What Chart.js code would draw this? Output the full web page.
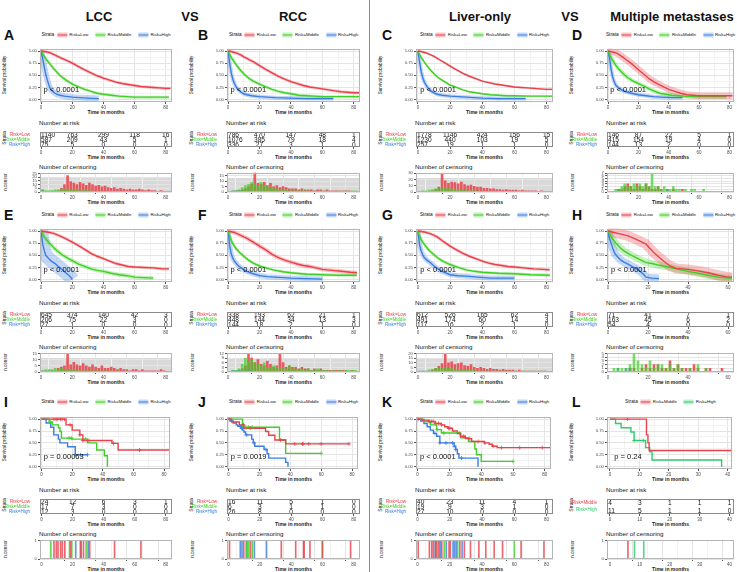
<!DOCTYPE html>
<html>
<head>
<meta charset="utf-8">
<script src="https://cdn.jsdelivr.net/npm/chart.js@4.4.1/dist/chart.umd.min.js"></script>
<style>
  body { margin: 0; background: #fff; }
  #fig { position: relative; width: 737px; height: 572px; overflow: hidden;
         font-family: "Liberation Sans", Arial, sans-serif; color: #111; }
  #fig canvas { position: absolute; }
  .t { position: absolute; white-space: nowrap; line-height: 1; }
  .hdr { font-weight: bold; font-size: 13px; transform: translate(-50%, -50%); }
  .let { font-weight: bold; font-size: 14px; transform: translateY(-50%); }
  .rot { font-size: 4.6px; transform: translate(-50%, -50%) rotate(-90deg); }
  .xt { font-size: 5px; font-weight: bold; color: #222; transform: translate(-50%, -50%); }
  .sub { font-size: 6.2px; transform: translateY(-50%); }
  .leg { position: absolute; display: flex; align-items: center; font-size: 4.4px;
         line-height: 1; white-space: nowrap; transform: translate(-50%, -50%); }
  .key { position: relative; display: inline-block; width: 10px; height: 5px; }
  .key i { position: absolute; left: 0; right: 0; top: 2px; height: 1.2px; }
</style>
</head>
<body>
<div id="fig"></div>
<script>
// ---- colours
const RED = "#e8414a", GREEN = "#3fcf26", BLUE = "#3b7de0", MINT = "#2ecc6e";

// ---- tick labels / strata
const ticks80 = [0, 20, 40, 60, 80];
const ticks60 = [0, 20, 40, 60];
const ticks40 = [0, 10, 20, 30, 40];
const survTicks = [0, 0.25, 0.5, 0.75, 1];
const strata3 = ["Risk=Low", "Risk=Middle", "Risk=High"];
const strata2 = ["Risk=Middle", "Risk=High"];
const censTicks25 = [0, 5, 10, 15, 20, 25];
const censTicks18 = [0, 5, 10, 15];
const censTicks30 = [0, 10, 20, 30];
const censTicks7 = [0, 1, 2, 3, 4, 5, 6, 7];
const censTicks15 = [0, 5, 10, 15];
const censTicks12 = [0, 3, 6, 9, 12];
const censTicks20 = [0, 5, 10, 15, 20];
const censTicks5 = [0, 1, 2, 3, 4, 5];
const censTicks1 = [0, 1];

// ---- survival curves [month, probability]
const A_low = [[0,1],[2,0.99],[4,0.98],[6,0.96],[8,0.93],[10,0.9],[12,0.87],[14,0.84],[16,0.81],[18,0.78],[20,0.75],[24,0.68],[28,0.61],[32,0.55],[36,0.49],[40,0.44],[44,0.4],[48,0.36],[52,0.33],[56,0.31],[60,0.29],[64,0.27],[68,0.26],[72,0.25],[76,0.24],[80,0.23],[83,0.23]];
const A_mid = [[0,1],[1,0.94],[2,0.89],[3,0.84],[4,0.8],[6,0.72],[8,0.64],[10,0.57],[12,0.5],[14,0.45],[16,0.4],[18,0.36],[20,0.32],[24,0.26],[28,0.21],[32,0.17],[36,0.13],[40,0.11],[45,0.09],[50,0.07],[55,0.06],[60,0.05],[70,0.05],[80,0.05],[82,0.05]];
const A_high = [[0,1],[1,0.85],[2,0.68],[3,0.52],[4,0.4],[5,0.3],[6,0.22],[8,0.15],[10,0.11],[12,0.09],[15,0.07],[20,0.05],[25,0.04],[30,0.03],[37,0.02]];

const B_low = [[0,1],[2,0.99],[4,0.97],[6,0.95],[8,0.92],[10,0.88],[12,0.85],[14,0.81],[16,0.78],[18,0.74],[20,0.7],[24,0.62],[28,0.55],[32,0.48],[36,0.42],[40,0.37],[44,0.33],[48,0.29],[52,0.26],[56,0.24],[60,0.22],[64,0.2],[68,0.18],[72,0.16],[76,0.15],[80,0.14],[84,0.14]];
const B_mid = [[0,1],[1,0.93],[2,0.87],[3,0.82],[4,0.77],[6,0.68],[8,0.6],[10,0.53],[12,0.47],[14,0.42],[16,0.38],[18,0.35],[20,0.32],[24,0.26],[28,0.21],[32,0.17],[36,0.14],[40,0.12],[45,0.09],[50,0.08],[55,0.07],[60,0.06],[70,0.06],[80,0.06],[84,0.06]];
const B_high = [[0,1],[1,0.75],[2,0.55],[3,0.42],[4,0.33],[5,0.27],[6,0.22],[8,0.16],[10,0.12],[12,0.1],[15,0.08],[20,0.06],[25,0.05],[30,0.04],[40,0.03],[50,0.02],[60,0.02],[67,0.02]];

const C_low = [[0,1],[2,0.99],[4,0.97],[6,0.95],[8,0.92],[10,0.89],[12,0.85],[14,0.81],[16,0.77],[18,0.73],[20,0.69],[24,0.61],[28,0.54],[32,0.48],[36,0.43],[40,0.38],[44,0.35],[48,0.32],[52,0.3],[56,0.28],[60,0.26],[64,0.25],[68,0.24],[72,0.23],[76,0.22],[80,0.21],[84,0.21]];
const C_mid = [[0,1],[1,0.93],[2,0.87],[3,0.82],[4,0.77],[6,0.68],[8,0.6],[10,0.53],[12,0.47],[14,0.42],[16,0.38],[18,0.34],[20,0.3],[24,0.25],[28,0.2],[32,0.16],[36,0.14],[40,0.12],[45,0.1],[50,0.09],[55,0.08],[60,0.08],[70,0.07],[80,0.07],[84,0.07]];
const C_high = [[0,1],[1,0.78],[2,0.58],[3,0.45],[4,0.36],[5,0.3],[6,0.25],[8,0.18],[10,0.14],[12,0.11],[15,0.09],[20,0.07],[25,0.06],[30,0.05],[40,0.03],[50,0.02],[60,0.02],[67,0.02]];

const D_low = [[0,1],[3,0.98],[6,0.95],[9,0.89],[12,0.82],[15,0.75],[18,0.67],[21,0.59],[24,0.51],[27,0.43],[30,0.37],[33,0.32],[36,0.27],[40,0.21],[44,0.17],[48,0.13],[52,0.1],[56,0.09],[60,0.08],[70,0.08],[80,0.08],[82,0.08]];
const D_mid = [[0,1],[1,0.93],[2,0.87],[3,0.81],[5,0.71],[7,0.63],[10,0.53],[13,0.45],[16,0.39],[20,0.33],[24,0.27],[27,0.22],[30,0.18],[34,0.13],[38,0.11],[42,0.09],[46,0.08],[50,0.07],[60,0.06],[70,0.06],[78,0.06]];
const D_high = [[0,1],[1,0.85],[2,0.62],[3,0.47],[4,0.37],[5,0.3],[7,0.24],[10,0.18],[14,0.14],[20,0.1],[25,0.08],[30,0.06],[35,0.05],[42,0.04],[49,0.04]];

const E_low = [[0,1],[4,0.98],[8,0.95],[12,0.9],[16,0.84],[20,0.77],[24,0.7],[28,0.62],[32,0.54],[36,0.48],[40,0.43],[44,0.38],[48,0.33],[52,0.3],[56,0.27],[60,0.26],[66,0.25],[72,0.24],[78,0.22],[82,0.22]];
const E_mid = [[0,1],[1,0.94],[2,0.88],[4,0.8],[6,0.73],[8,0.66],[10,0.6],[12,0.55],[14,0.5],[17,0.44],[20,0.39],[24,0.32],[28,0.27],[32,0.22],[36,0.19],[40,0.17],[45,0.13],[50,0.1],[55,0.08],[60,0.05],[66,0.04],[72,0.03]];
const E_high = [[0,1],[1,0.74],[2,0.6],[3,0.5],[5,0.43],[7,0.37],[9,0.33],[11,0.27],[13,0.22],[15,0.16],[17,0.11],[19,0.05],[20,0]];

const F_low = [[0,1],[4,0.97],[8,0.91],[12,0.85],[16,0.77],[20,0.69],[24,0.61],[28,0.52],[32,0.45],[36,0.4],[40,0.36],[44,0.32],[48,0.29],[52,0.27],[56,0.24],[60,0.21],[66,0.19],[72,0.17],[78,0.15],[82,0.14]];
const F_mid = [[0,1],[1,0.9],[2,0.81],[3,0.74],[5,0.64],[7,0.57],[10,0.48],[13,0.4],[16,0.34],[20,0.28],[25,0.23],[30,0.19],[35,0.16],[40,0.14],[50,0.11],[60,0.1],[70,0.09],[82,0.09]];
const F_high = [[0,1],[1,0.7],[2,0.53],[3,0.44],[4,0.38],[6,0.3],[8,0.25],[10,0.2],[12,0.17],[15,0.13],[20,0.08],[25,0.06],[30,0.05],[40,0.03],[50,0.02],[60,0.01]];

const G_low = [[0,1],[4,0.98],[8,0.94],[12,0.88],[16,0.78],[20,0.69],[24,0.61],[28,0.54],[32,0.48],[36,0.43],[40,0.38],[44,0.34],[48,0.31],[52,0.29],[56,0.27],[60,0.26],[66,0.24],[72,0.22],[78,0.21],[82,0.2]];
const G_mid = [[0,1],[1,0.9],[2,0.83],[3,0.77],[5,0.68],[7,0.6],[10,0.51],[13,0.43],[16,0.37],[20,0.31],[25,0.25],[30,0.2],[35,0.17],[40,0.15],[50,0.13],[60,0.12],[70,0.1],[82,0.09]];
const G_high = [[0,1],[1,0.72],[2,0.59],[3,0.51],[4,0.45],[6,0.39],[8,0.34],[10,0.28],[12,0.23],[15,0.17],[20,0.1],[25,0.08],[30,0.07],[37,0.05],[45,0.03],[60,0.03]];

const H_low = [[0,1],[3,0.97],[6,0.94],[10,0.9],[13,0.85],[16,0.79],[19,0.73],[21,0.64],[23,0.55],[25,0.48],[27,0.41],[29,0.34],[31,0.28],[34,0.23],[40,0.21],[45,0.18],[50,0.14],[55,0.09],[60,0.05],[62,0.05]];
const H_mid = [[0,1],[1,0.92],[2,0.85],[4,0.75],[6,0.66],[8,0.59],[10,0.54],[13,0.47],[16,0.41],[19,0.35],[22,0.33],[25,0.3],[29,0.27],[34,0.22],[40,0.17],[45,0.13],[50,0.09],[55,0.05],[60,0.03],[62,0.03]];
const H_high = [[0,1],[0.5,0.88],[1.5,0.75],[2.5,0.63],[3.5,0.53],[5,0.46],[6.5,0.4],[8,0.36],[10,0.32],[12,0.27],[14,0.23],[16,0.17],[18,0.1],[19,0.05],[22,0.03],[25.5,0.02]];

const I_low = [[0,1],[16,0.88],[20,0.77],[25,0.67],[27,0.55],[46,0.49],[50,0.35],[84,0.35]];
const I_mid = [[0,1],[5,0.94],[7,0.88],[11,0.82],[12,0.74],[13,0.6],[20,0.58],[30,0.5],[36,0.35],[41,0.23],[43,0]];
const I_high = [[0,1],[3,0.92],[6,0.83],[8,0.67],[11,0.58],[12,0.5],[17,0.42],[22,0.25],[30,0.25]];

const J_low = [[0,1],[2,0.94],[7,0.88],[10,0.81],[24,0.74],[26,0.66],[30,0.56],[37,0.48],[78,0.48]];
const J_mid = [[0,1],[9,0.83],[33,0.56],[37,0.28],[60,0.28]];
const J_high = [[0,1],[1,0.96],[3,0.92],[5,0.88],[6,0.85],[8,0.81],[9,0.77],[10,0.73],[11,0.67],[15,0.58],[16,0.5],[17,0.43],[23,0.36],[25,0.27],[26,0.18],[37,0.09],[38.5,0]];

const K_low = [[0,1],[3,0.98],[7,0.95],[11,0.91],[15,0.88],[17,0.84],[19,0.81],[22,0.75],[25,0.7],[27,0.64],[30,0.59],[34,0.53],[42,0.5],[45,0.47],[47,0.43],[50,0.4],[84,0.4]];
const K_mid = [[0,1],[4,0.95],[8,0.88],[12,0.78],[15,0.71],[27,0.61],[32,0.53],[36,0.37],[37,0.25],[40,0.11],[60,0.11]];
const K_high = [[0,1],[2,0.96],[4,0.91],[6,0.84],[8,0.77],[10,0.7],[12,0.64],[14,0.5],[23,0.43],[24,0.36],[25,0.27],[26,0.18],[38,0]];

const L_mid = [[0,1],[12.4,0.67],[12.9,0.5],[13.3,0.34],[41.5,0.34]];
const L_high = [[0,1],[1.9,0.91],[3.8,0.82],[7.1,0.73],[8.2,0.55],[12.1,0.4],[13.5,0.31],[14.3,0.14],[37.9,0]];

// ---- numbers at risk (rows = strata, columns = time ticks)
const A_risk = [[1140, 763, 299, 118, 16], [587, 209, 43, 5, 1], [75, 5, 0, 0, 0]];
const B_risk = [[786, 470, 147, 48, 1], [1076, 385, 79, 18, 4], [336, 27, 3, 1, 0]];
const C_risk = [[1778, 1146, 424, 156, 15], [1230, 440, 103, 19, 5], [257, 19, 1, 1, 0]];
const D_risk = [[146, 87, 22, 5, 1], [415, 154, 19, 4, 0], [144, 13, 2, 0, 0]];
const E_risk = [[645, 374, 140, 42, 3], [206, 75, 22, 3, 0], [27, 1, 0, 0, 0]];
const F_risk = [[338, 193, 62, 21, 1], [448, 144, 34, 13, 3], [144, 18, 2, 1, 0]];
const G_risk = [[612, 526, 165, 62, 4], [491, 174, 60, 14, 3], [117, 16, 2, 1, 0]];
const H_risk = [[71, 41, 7, 1], [163, 45, 6, 2], [54, 4, 0, 0]];
const I_risk = [[24, 12, 6, 3, 1], [17, 7, 3, 0, 0], [12, 3, 0, 0, 0]];
const J_risk = [[16, 11, 5, 1, 0], [6, 3, 1, 1, 0], [26, 8, 0, 0, 0]];
const K_risk = [[40, 23, 11, 4, 1], [19, 9, 3, 1, 0], [27, 10, 0, 0, 0]];
const L_risk = [[4, 3, 1, 1, 1], [11, 5, 1, 1, 0]];

// ---- censoring counts per 2-month bin (A-H)
const A_censLow = [0,0,1,1,1,2,5,10,22,14,12,10,13,11,9,12,10,8,9,7,8,6,5,6,4,5,4,3,4,3,3,4,3,2,3,2,2,1,2,1,1];
const A_censMid = [3,2,2,2,3,3,4,4,4,3,3,3,2,2,2,2,1,1,1,1,1,0,1,0,0,0,0,0,0,0,0,0,0,0,0,0,0,0,0,0,0];
const A_censHigh = [3,1,1,0,0,0,0,0,0,1,0,0,0,0,0,0,0,0,0];
const B_censLow = [0,0,1,1,2,3,5,7,18,8,7,9,6,8,5,6,4,5,4,3,3,3,2,3,2,2,2,1,2,2,1,2,1,1,1,1,1,1,1,0,0];
const B_censMid = [0,1,1,2,4,6,7,9,8,6,9,6,5,4,4,3,2,2,2,1,1,1,1,1,1,1,0,1,0,1,0,1,0,0,1,0,0,1,0,1,1];
const B_censHigh = [0,1,1,1,1,0,1,0,0,0,0,0,0,0,0,0,0];
const C_censLow = [0,0,1,1,2,4,8,30,18,14,16,15,13,16,12,10,11,9,8,8,6,6,5,5,4,4,3,4,3,3,3,2,3,2,2,2,2,1,2,1,1];
const C_censMid = [1,2,2,3,4,5,6,6,7,6,5,4,4,3,3,2,2,2,2,1,1,1,1,1,1,1,1,1,1,0,1,1,0,1,0,1,0,1,1,1,0];
const C_censHigh = [1,1,1,1,1,1,0,0,0,0,0,0,0,0,0,0,0];
const D_censLow = [0,0,0,1,1,2,3,2,1,3,2,1,3,2,1,1,2,1,0,1,0,1,0,0,1,0,0,0,0,0,0,0,0,0,0,0,0,0,0,0,0];
const D_censMid = [0,0,1,1,2,3,2,2,3,2,3,2,3,2,7,2,2,1,2,1,1,2,1,1,0,1,0,1,1,0,0,1,0,0,0,0,0,0,0,0,0];
const D_censHigh = [0,0,0,1,0,0,0,0,0,0,0,0,0,0,0,0,0,0,0,1,0,0,0,0,0];
const E_censLow = [0,0,0,1,1,3,4,5,15,6,8,6,5,7,5,4,6,4,3,5,3,3,4,3,2,3,2,2,1,2,2,1,2,1,1,1,1,1,2,1,0];
const E_censMid = [1,2,2,2,3,2,3,2,2,2,2,1,1,1,1,1,1,1,1,0,1,0,1,0,1,0,0,1,0,0,0,0,0,0,0,0,0,0,0,0,0];
const E_censHigh = [1,0,1,0,0,0,0,0,0,0,0];
const F_censLow = [0,0,0,1,2,4,12,9,6,8,5,4,7,5,3,4,12,6,3,4,3,3,2,3,2,2,1,2,1,2,1,1,1,1,1,1,1,1,0,1,0];
const F_censMid = [0,1,1,2,5,9,7,8,6,5,4,6,3,3,4,3,2,3,2,4,2,2,1,2,1,2,1,1,2,1,1,1,0,1,0,1,0,1,1,1,1];
const F_censHigh = [0,1,1,1,0,1,0,1,0,0,0,0,0,0,0,0,0,0];
const G_censLow = [0,0,0,1,2,4,6,9,20,10,11,8,9,10,7,6,8,5,4,5,4,3,4,3,3,2,3,2,2,2,1,2,1,1,1,1,1,1,1,1,0];
const G_censMid = [0,1,1,2,3,4,4,5,5,4,4,3,3,3,2,2,2,2,1,1,1,1,1,1,1,1,1,0,1,0,1,0,1,1,0,1,0,1,1,1,0];
const G_censHigh = [1,1,1,0,0,0,0,0,0,0,0,0,1,0,0];
const H_censLow = [0,0,0,0,0,1,1,0,1,2,1,2,2,1,1,3,1,2,1,1,1,2,1,0,1,1,0,0,1,0,0];
const H_censMid = [0,1,1,1,1,2,5,3,2,1,3,1,2,2,1,2,1,2,1,0,1,0,2,0,1,0,0,0,0,0,0];
const H_censHigh = [0,0,1,0,1,1,0,0,0,0,0,0,0];

// ---- censoring times (I-L), one event each
const I_censLow = [8, 9.5, 10.6, 12.3, 13.4, 15, 18.7, 25, 27, 31, 47, 64];
const I_censMid = [6, 18, 19.5, 28.7];
const I_censHigh = [22, 25.5, 30];
const J_censLow = [0.6, 9.7, 14, 33.7, 42.9, 47.9, 48.3, 52, 60, 78];
const J_censMid = [11.2, 12.9, 15.2, 60];
const J_censHigh = [7.5, 8.6, 11.8, 16.5, 24.2];
const K_censLow = [0.4, 7.3, 8.8, 9.8, 11.5, 13.2, 15, 19.5, 20.3, 26.2, 29, 32.8, 38, 42.3, 47.5, 52.7, 64.2, 78.4];
const K_censMid = [12.3, 16.5, 24.9, 60];
const K_censHigh = [10.9, 14, 17.8, 22, 23, 24, 27.6];
const L_censMid = [6];
const L_censHigh = [8.2, 11.3];

// ---- layout
const colL = [40, 227, 416, 607], colR = [172, 360, 553, 734];
const letterX = [4, 198, 382, 572];
const rowTop = [20, 200, 387];

const C3 = [RED, GREEN, BLUE];
const panels = [
  { id: "A", col: 0, row: 0, xmin: -0.7, xmax: 84, ticks: ticks80, curves: [A_low, A_mid, A_high], band: [3, 3, 6], risk: A_risk, strata: strata3, colors: C3, p: "p < 0.0001", cens: [A_censLow, A_censMid, A_censHigh], censTicks: censTicks25, censMax: 26, gray: true },
  { id: "B", col: 1, row: 0, xmin: -0.7, xmax: 84, ticks: ticks80, curves: [B_low, B_mid, B_high], band: [3, 3, 4], risk: B_risk, strata: strata3, colors: C3, p: "p < 0.0001", cens: [B_censLow, B_censMid, B_censHigh], censTicks: censTicks18, censMax: 18, gray: true },
  { id: "C", col: 2, row: 0, xmin: -1.2, xmax: 84, ticks: ticks80, curves: [C_low, C_mid, C_high], band: [2, 2, 4], risk: C_risk, strata: strata3, colors: C3, p: "p < 0.0001", cens: [C_censLow, C_censMid, C_censHigh], censTicks: censTicks30, censMax: 31, gray: true },
  { id: "D", col: 3, row: 0, xmin: -0.7, xmax: 83, ticks: ticks80, curves: [D_low, D_mid, D_high], band: [7, 4, 4], risk: D_risk, strata: strata3, colors: C3, p: "p < 0.0001", cens: [D_censLow, D_censMid, D_censHigh], censTicks: censTicks7, censMax: 7.2, gray: false },
  { id: "E", col: 0, row: 1, xmin: -0.7, xmax: 84, ticks: ticks80, curves: [E_low, E_mid, E_high], band: [3, 4, 14], risk: E_risk, strata: strata3, colors: C3, p: "p < 0.0001", cens: [E_censLow, E_censMid, E_censHigh], censTicks: censTicks15, censMax: 16, gray: true },
  { id: "F", col: 1, row: 1, xmin: -0.7, xmax: 84, ticks: ticks80, curves: [F_low, F_mid, F_high], band: [4, 3, 5], risk: F_risk, strata: strata3, colors: C3, p: "p < 0.0001", cens: [F_censLow, F_censMid, F_censHigh], censTicks: censTicks12, censMax: 12.5, gray: true },
  { id: "G", col: 2, row: 1, xmin: -1.2, xmax: 84, ticks: ticks80, curves: [G_low, G_mid, G_high], band: [3, 3, 5], risk: G_risk, strata: strata3, colors: C3, p: "p < 0.0001", cens: [G_censLow, G_censMid, G_censHigh], censTicks: censTicks20, censMax: 21, gray: true },
  { id: "H", col: 3, row: 1, xmin: -0.5, xmax: 63, ticks: ticks60, curves: [H_low, H_mid, H_high], band: [10, 7, 8], risk: H_risk, strata: strata3, colors: C3, p: "p < 0.0001", cens: [H_censLow, H_censMid, H_censHigh], censTicks: censTicks5, censMax: 5.2, gray: false },
  { id: "I", col: 0, row: 2, xmin: -1, xmax: 84, ticks: ticks80, curves: [I_low, I_mid, I_high], stepped: true, risk: I_risk, strata: strata3, colors: C3, p: "p = 0.00063", censTimes: [I_censLow, I_censMid, I_censHigh], censTicks: censTicks1, censMax: 1.05 },
  { id: "J", col: 1, row: 2, xmin: -1, xmax: 84, ticks: ticks80, curves: [J_low, J_mid, J_high], stepped: true, risk: J_risk, strata: strata3, colors: C3, p: "p = 0.0019", censTimes: [J_censLow, J_censMid, J_censHigh], censTicks: censTicks1, censMax: 1.05 },
  { id: "K", col: 2, row: 2, xmin: -1, xmax: 84, ticks: ticks80, curves: [K_low, K_mid, K_high], stepped: true, risk: K_risk, strata: strata3, colors: C3, p: "p < 0.0001", censTimes: [K_censLow, K_censMid, K_censHigh], censTicks: censTicks1, censMax: 1.05 },
  { id: "L", col: 3, row: 2, xmin: -1, xmax: 41.5, ticks: ticks40, curves: [L_mid, L_high], stepped: true, risk: L_risk, strata: strata2, colors: [RED, MINT], p: "p = 0.24", censTimes: [L_censMid, L_censHigh], censTicks: censTicks1, censMax: 1.05 },
];

// ---- helpers
Chart.defaults.font.family = '"Liberation Sans", Arial, sans-serif';
Chart.defaults.animation = false;
const fig = document.getElementById("fig");

function alpha(hex, a) {
  const n = parseInt(hex.slice(1), 16);
  return `rgba(${n >> 16},${(n >> 8) & 255},${n & 255},${a})`;
}
function withMinor(majors) {
  const out = majors.slice();
  for (let i = 0; i < majors.length - 1; i++) out.push((majors[i] + majors[i + 1]) / 2);
  return out.sort((a, b) => a - b);
}
function stepAt(curve, t) {
  let v = curve[0][1];
  curve.forEach(([x, y]) => { if (x <= t) v = y; });
  return v;
}
function addCanvas(x, y, w, h) {
  const c = document.createElement("canvas");
  c.width = w; c.height = h;
  c.style.left = x + "px"; c.style.top = y + "px";
  fig.appendChild(c);
  return c;
}
function text(x, y, str, cls, extra) {
  const d = document.createElement("div");
  d.className = "t " + cls;
  d.style.left = x + "px"; d.style.top = y + "px";
  if (extra) d.style.cssText += extra;
  d.textContent = str;
  fig.appendChild(d);
  return d;
}

// x axis shared by the three stacked plots of a panel
function xAxis(p, minor, grid) {
  const all = minor ? withMinor(p.ticks) : p.ticks;
  const isMajor = (c) => c.tick && p.ticks.includes(c.tick.value);
  return {
    type: "linear", min: p.xmin, max: p.xmax, offset: false,
    afterFit: (s) => { s.height = 9; },
    afterBuildTicks: (s) => { s.ticks = all.map((v) => ({ value: v })); },
    ticks: { font: { size: 4.5 }, color: "#4d4d4d", padding: 1, maxRotation: 0, autoSkip: false,
             callback: (v) => (p.ticks.includes(v) ? String(v) : "") },
    grid: { drawOnChartArea: grid, color: (c) => (isMajor(c) ? "#e4e4e4" : "#f2f2f2"),
            tickLength: 2, tickColor: (c) => (isMajor(c) ? "#555" : "rgba(0,0,0,0)") },
    border: { display: false },
  };
}
function yAxis(majors, min, max, fmt, minor, grid) {
  const all = minor ? withMinor(majors) : majors;
  const isMajor = (c) => c.tick && majors.includes(c.tick.value);
  return {
    min, max,
    afterFit: (s) => { s.width = 28; },
    afterBuildTicks: (s) => { s.ticks = all.map((v) => ({ value: v })); },
    ticks: { font: { size: 4.3 }, color: "#4d4d4d", padding: 1, autoSkip: false,
             callback: (v) => (majors.includes(v) ? fmt(v) : "") },
    grid: { drawOnChartArea: grid, color: (c) => (isMajor(c) ? "#e4e4e4" : "#f2f2f2"),
            tickLength: 2, tickColor: (c) => (isMajor(c) ? "#555" : "rgba(0,0,0,0)") },
    border: { display: false },
  };
}

const framePlugin = {
  id: "frame",
  afterDraw(chart, args, o) {
    const a = chart.chartArea, ctx = chart.ctx;
    ctx.save();
    ctx.strokeStyle = o.color || "#b5b5b5";
    ctx.lineWidth = 1;
    ctx.strokeRect(Math.round(a.left) + 0.5, Math.round(a.top) + 0.5,
                   Math.round(a.right - a.left) - 1, Math.round(a.bottom - a.top) - 1);
    ctx.restore();
  },
};
const grayPlugin = {
  id: "grayband",
  beforeDraw(chart, args, o) {
    if (!o.on) return;
    const a = chart.chartArea, ctx = chart.ctx;
    const h = (a.bottom - a.top) * 0.72;
    ctx.save();
    ctx.fillStyle = "#d9d9d9";
    ctx.fillRect(a.left, a.bottom - h, a.right - a.left, h);
    ctx.restore();
  },
};
const pvalPlugin = {
  id: "pval",
  afterDatasetsDraw(chart, args, o) {
    const ctx = chart.ctx, x = chart.scales.x, y = chart.scales.y;
    ctx.save();
    ctx.font = '7.5px "Liberation Sans", Arial, sans-serif';
    ctx.fillStyle = "#111";
    ctx.textAlign = "left"; ctx.textBaseline = "middle";
    ctx.fillText(o.label, x.getPixelForValue(1.5), y.getPixelForValue(0.2));
    ctx.restore();
  },
};
const riskTextPlugin = {
  id: "risktext",
  afterDatasetsDraw(chart) {
    const ctx = chart.ctx, a = chart.chartArea;
    ctx.save();
    ctx.font = '6.6px "Liberation Sans", Arial, sans-serif';
    ctx.fillStyle = "#111";
    ctx.textAlign = "center"; ctx.textBaseline = "middle";
    chart.data.datasets.forEach((ds, di) => {
      chart.getDatasetMeta(di).data.forEach((pt, i) => {
        const s = String(ds.data[i].n);
        const w = ctx.measureText(s).width;
        let px = pt.x;
        if (px - w / 2 < a.left + 1) px = a.left + 1 + w / 2;
        if (px + w / 2 > a.right - 1) px = a.right - 1 - w / 2;
        ctx.fillText(s, px, pt.y + 0.5);
      });
    });
    ctx.restore();
  },
};

function baseOpts() {
  return { responsive: false, animation: false, devicePixelRatio: 1,
           layout: { padding: { top: 3, right: 3, left: 0, bottom: 0 } },
           events: [] };
}

// ---- Kaplan-Meier plot
function kmChart(p) {
  const L = colL[p.col], R = colR[p.col], T = rowTop[p.row] + 28, B = rowTop[p.row] + 82;
  const cv = addCanvas(L - 28, T - 3, R - L + 31, B - T + 12);
  const datasets = [];
  p.curves.forEach((c, i) => {
    const pts = c.map(([x, y]) => ({ x, y }));
    if (p.band) {
      datasets.push({ data: pts, borderColor: alpha(p.colors[i], 0.3), borderWidth: p.band[i],
                      pointRadius: 0, order: 3, borderJoinStyle: "round" });
    }
    datasets.push({ data: pts, borderColor: p.colors[i], borderWidth: 1.4, pointRadius: 0,
                    stepped: !!p.stepped, order: 2 });
    if (p.censTimes) {
      datasets.push({ data: p.censTimes[i].map((t) => ({ x: t, y: stepAt(c, t) })), showLine: false,
                      pointStyle: "cross", pointRadius: 2, borderWidth: 0.8,
                      borderColor: p.colors[i], order: 1 });
    }
  });
  new Chart(cv, {
    type: "line",
    data: { datasets },
    options: Object.assign(baseOpts(), {
      plugins: { legend: { display: false }, tooltip: { enabled: false },
                 frame: {}, pval: { label: p.p } },
      scales: { x: xAxis(p, true, true),
                y: yAxis(survTicks, -0.05, 1.05, (v) => v.toFixed(2), true, true) },
    }),
    plugins: [framePlugin, pvalPlugin],
  });
}

// ---- number at risk table
function riskChart(p) {
  const L = colL[p.col], R = colR[p.col], T = rowTop[p.row] + 108, B = rowTop[p.row] + 127;
  const cv = addCanvas(L - 40, T - 1, R - L + 43, B - T + 10);
  const datasets = p.risk.map((row, s) => ({
    data: row.map((n, j) => ({ x: p.ticks[j], y: p.strata[s], n })),
    pointRadius: 0, showLine: false,
  }));
  const xs = xAxis(p, false, false);
  new Chart(cv, {
    type: "line",
    data: { datasets },
    options: Object.assign(baseOpts(), {
      layout: { padding: { top: 1, right: 3, left: 0, bottom: 0 } },
      plugins: { legend: { display: false }, tooltip: { enabled: false }, frame: { color: "#8a8a8a" } },
      scales: {
        x: xs,
        y: { type: "category", labels: p.strata, offset: true,
             afterFit: (s) => { s.width = 40; },
             ticks: { font: { size: 4.6 }, padding: 2, autoSkip: false,
                      color: (c) => p.colors[c.index] },
             grid: { display: false }, border: { display: false } },
      },
    }),
    plugins: [framePlugin, riskTextPlugin],
  });
}

// ---- number of censoring
function censChart(p) {
  const L = colL[p.col], R = colR[p.col], T = rowTop[p.row] + 152, B = rowTop[p.row] + 172;
  const cv = addCanvas(L - 28, T - 3, R - L + 31, B - T + 12);
  let datasets;
  if (p.cens) {
    datasets = p.cens.map((arr, i) => ({
      data: arr.map((n, k) => ({ x: 2 * k + 1, y: n })),
      backgroundColor: alpha(p.colors[i], i === 0 ? 0.85 : 0.7),
      barThickness: 2, grouped: false, order: i === 0 ? 2 : 1,
    }));
  } else {
    datasets = p.censTimes.map((arr, i) => ({
      data: arr.map((t) => ({ x: t, y: 1 })),
      backgroundColor: alpha(p.colors[i], 0.8),
      barThickness: 1, grouped: false,
    }));
  }
  new Chart(cv, {
    type: "bar",
    data: { datasets },
    options: Object.assign(baseOpts(), {
      plugins: { legend: { display: false }, tooltip: { enabled: false },
                 frame: {}, grayband: { on: !!p.gray } },
      scales: { x: xAxis(p, true, true),
                y: yAxis(p.censTicks, 0, p.censMax, (v) => String(v), false, true) },
    }),
    plugins: [grayPlugin, framePlugin],
  });
}

// ---- panel texts
function panelTexts(p) {
  const L = colL[p.col], R = colR[p.col], top = rowTop[p.row], cx = (L + R) / 2;
  text(letterX[p.col], top + 15, p.id, "let");
  // legend
  const lg = document.createElement("div");
  lg.className = "leg";
  lg.style.left = cx + "px"; lg.style.top = top + 15 + "px";
  let html = '<span style="margin-right:3px;font-size:4.8px">Strata</span>';
  p.strata.forEach((s, i) => {
    const c = p.colors[i];
    html += `<span class="key" style="background:${alpha(c, 0.3)}"><i style="background:${c}"></i></span>` +
            `<span style="margin:0 ${i < p.strata.length - 1 ? 7 : 0}px 0 2px">${s}</span>`;
  });
  lg.innerHTML = html;
  fig.appendChild(lg);

  text(L - 35, top + 55, "Survival probability", "rot");
  text(cx, top + 92, "Time in months", "xt");
  text(L - 1, top + 103, "Number at risk", "sub");
  text(L - 36, top + 117.5, "Strata", "rot", "font-size:5px");
  text(cx, top + 137, "Time in months", "xt");
  text(L - 1, top + 147, "Number of censoring", "sub");
  text(L - 34, top + 162, "n.censor", "rot");
  text(cx, top + 182, "Time in months", "xt");
}

// ---- headers
text(99, 16, "LCC", "hdr");
text(190, 16, "VS", "hdr");
text(293, 16, "RCC", "hdr");
text(480, 16, "Liver-only", "hdr");
text(570, 16, "VS", "hdr");
text(672, 16, "Multiple metastases", "hdr");
const sep = document.createElement("div");
sep.style.cssText = "position:absolute;left:369px;top:0;width:1px;height:572px;background:#8c8c8c";
fig.appendChild(sep);

panels.forEach((p) => {
  panelTexts(p);
  kmChart(p);
  riskChart(p);
  censChart(p);
});
</script>
</body>
</html>
